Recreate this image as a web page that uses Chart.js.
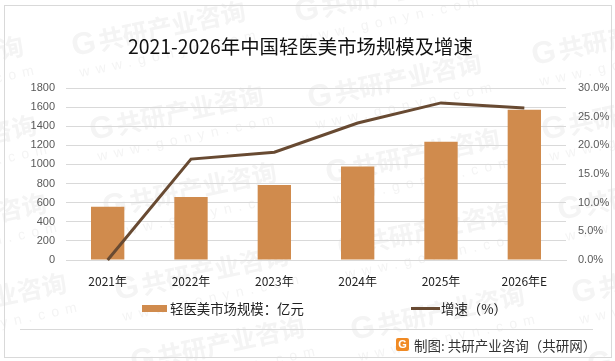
<!DOCTYPE html>
<html>
<head>
<meta charset="utf-8">
<script src="https://cdn.jsdelivr.net/npm/chart.js@4"></script>
<style>
    html, body { margin: 0; padding: 0; background: #fff; }
    canvas { display: block; }
</style>
</head>
<body>
<canvas id="myChart" width="615" height="361"></canvas>
<script>
const categories = ['2021年', '2022年', '2023年', '2024年', '2025年', '2026年E'];
const marketSize = [556, 660, 786, 978, 1237, 1572];
const growthRate = [0, 0.176, 0.188, 0.239, 0.274, 0.265];
const barLabel = '轻医美市场规模：亿元';
const lineLabel = '增速（%）';
const titleText = '2021-2026年中国轻医美市场规模及增速';
const footerText = '制图: 共研产业咨询（共研网）';

const CJK = '"Noto Sans CJK SC", sans-serif';
const LATIN = '"Liberation Sans", "Noto Sans CJK SC", sans-serif';
const BAR_COLOR = '#d08b4d';
const LINE_COLOR = '#684a32';

// watermark positions (logo corner)
const marks = [
    [-148, 91], [74, 56], [297, 22], [310, 108], [534, 65],
    [-135, 170], [92, 140], [328, 183], [544, 140],
    [-125, 248], [105, 217], [340, 258], [560, 220],
    [-105, 328], [117, 300], [353, 340], [574, 303],
    [133, 372], [590, 375]
];

function drawMark(c, x, y) {
    c.save();
    c.translate(x, y);
    c.rotate(-12 * Math.PI / 180);
    c.fillStyle = '#f4f4f4';
    c.font = 'bold 31px ' + LATIN;
    c.textAlign = 'left';
    c.textBaseline = 'alphabetic';
    c.fillText('G', 0, 0);
    c.font = 'bold 25px ' + CJK;
    c.fillText('共研产业咨询', 27, 0);
    c.font = '14px ' + LATIN;
    c.letterSpacing = '6.5px';
    c.fillText('www.gonyn.com', 2, 22);
    c.restore();
}

const decorations = {
    id: 'decorations',
    beforeDraw(chart) {
        const c = chart.ctx;
        c.save();
        c.fillStyle = '#fff';
        c.fillRect(0, 0, 615, 361);
        marks.forEach(m => drawMark(c, m[0], m[1]));
        c.strokeStyle = '#d9d9d9';
        c.lineWidth = 1;
        c.strokeRect(4.5, 5.5, 607, 352);
        c.beginPath();
        c.moveTo(20, 329.5);
        c.lineTo(593, 329.5);
        c.stroke();
        c.restore();
    },
    afterDraw(chart) {
        const c = chart.ctx;
        c.save();
        c.textBaseline = 'middle';
        c.textAlign = 'left';

        c.fillStyle = '#111';
        c.font = '19.4px ' + CJK;
        c.fillText(titleText, 128, 47);

        // legend
        c.fillStyle = BAR_COLOR;
        c.fillRect(142, 305, 25, 7);
        c.fillStyle = '#222';
        c.font = '13.4px ' + CJK;
        c.fillText(barLabel, 170, 309);
        c.strokeStyle = LINE_COLOR;
        c.lineWidth = 3;
        c.beginPath();
        c.moveTo(411, 308.5);
        c.lineTo(440, 308.5);
        c.stroke();
        c.fillStyle = '#222';
        c.fillText(lineLabel, 441, 309);

        // footer
        c.fillStyle = '#f08a24';
        c.beginPath();
        c.roundRect(396, 338, 13, 13, 2);
        c.fill();
        c.fillStyle = '#fff';
        c.font = 'bold 11px ' + LATIN;
        c.textAlign = 'center';
        c.fillText('G', 402.5, 345);
        c.textAlign = 'left';
        c.fillStyle = '#333';
        c.font = '13.5px ' + CJK;
        c.fillText(footerText, 414, 346);
        c.restore();
    }
};

new Chart(document.getElementById('myChart').getContext('2d'), {
    data: {
        labels: categories,
        datasets: [
            {
                type: 'line',
                label: lineLabel,
                data: growthRate,
                yAxisID: 'y1',
                borderColor: LINE_COLOR,
                borderWidth: 3,
                pointRadius: 0,
                tension: 0,
                clip: false,
                order: 1
            },
            {
                type: 'bar',
                label: barLabel,
                data: marketSize,
                yAxisID: 'y',
                backgroundColor: BAR_COLOR,
                categoryPercentage: 0.4,
                barPercentage: 1,
                order: 2
            }
        ]
    },
    options: {
        responsive: false,
        animation: false,
        layout: { padding: { top: 88, left: 0, right: 0, bottom: 0 } },
        plugins: {
            legend: { display: false },
            title: { display: false },
            tooltip: { enabled: false }
        },
        scales: {
            x: {
                grid: { display: false, drawTicks: false },
                border: { color: '#d9d9d9' },
                ticks: { color: '#222', font: { family: CJK, size: 12 }, padding: 14, maxRotation: 0 },
                afterFit(scale) { scale.height = 101; }
            },
            y: {
                position: 'left',
                min: 0,
                max: 1800,
                grid: { color: '#d9d9d9', drawTicks: false },
                border: { display: false },
                ticks: {
                    stepSize: 200,
                    color: '#595959',
                    font: { family: LATIN, size: 11 },
                    padding: 11,
                    callback: v => String(v)
                },
                afterFit(scale) { scale.width = 66; }
            },
            y1: {
                position: 'right',
                min: 0,
                max: 0.3,
                grid: { display: false, drawTicks: false },
                border: { display: false },
                ticks: {
                    stepSize: 0.05,
                    color: '#595959',
                    font: { family: LATIN, size: 11 },
                    padding: 12,
                    callback: v => (v * 100).toFixed(1) + '%'
                },
                afterFit(scale) { scale.width = 49; }
            }
        }
    },
    plugins: [decorations]
});
</script>
</body>
</html>
